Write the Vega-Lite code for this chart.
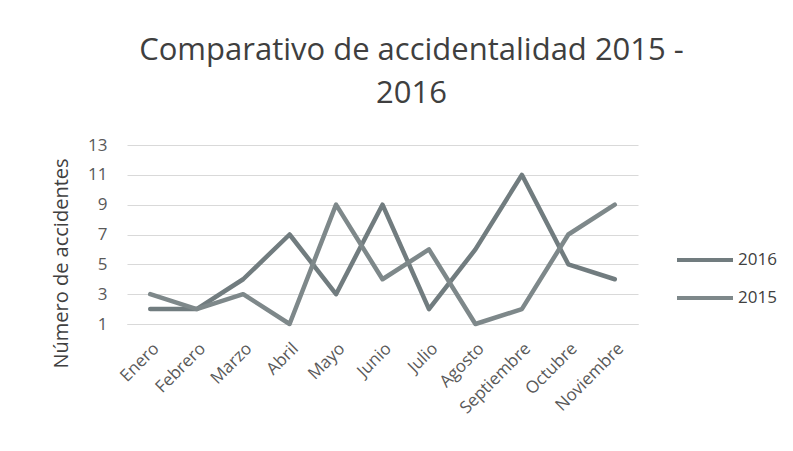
{
  "$schema": "https://vega.github.io/schema/vega-lite/v6.json",
  "autosize": {"type": "none"},
  "width": 511,
  "height": 179,
  "padding": {"left": 127, "top": 145, "right": 155, "bottom": 127},
  "background": "white",
  "config": {
    "font": "Open Sans",
    "view": {"stroke": null}
  },
  "title": {
    "text": ["Comparativo de accidentalidad 2015 -", "2016"],
    "fontSize": 31,
    "fontWeight": "normal",
    "color": "#3f3f3f",
    "lineHeight": 43,
    "anchor": "middle",
    "dx": 29,
    "offset": 26,
    "font": "Open Sans"
  },
  "data": {
    "values": [
      {"mes": "Enero", "serie": "2016", "valor": 2},
      {"mes": "Febrero", "serie": "2016", "valor": 2},
      {"mes": "Marzo", "serie": "2016", "valor": 4},
      {"mes": "Abril", "serie": "2016", "valor": 7},
      {"mes": "Mayo", "serie": "2016", "valor": 3},
      {"mes": "Junio", "serie": "2016", "valor": 9},
      {"mes": "Julio", "serie": "2016", "valor": 2},
      {"mes": "Agosto", "serie": "2016", "valor": 6},
      {"mes": "Septiembre", "serie": "2016", "valor": 11},
      {"mes": "Octubre", "serie": "2016", "valor": 5},
      {"mes": "Noviembre", "serie": "2016", "valor": 4},
      {"mes": "Enero", "serie": "2015", "valor": 3},
      {"mes": "Febrero", "serie": "2015", "valor": 2},
      {"mes": "Marzo", "serie": "2015", "valor": 3},
      {"mes": "Abril", "serie": "2015", "valor": 1},
      {"mes": "Mayo", "serie": "2015", "valor": 9},
      {"mes": "Junio", "serie": "2015", "valor": 4},
      {"mes": "Julio", "serie": "2015", "valor": 6},
      {"mes": "Agosto", "serie": "2015", "valor": 1},
      {"mes": "Septiembre", "serie": "2015", "valor": 2},
      {"mes": "Octubre", "serie": "2015", "valor": 7},
      {"mes": "Noviembre", "serie": "2015", "valor": 9}
    ]
  },
  "mark": {"type": "line", "strokeWidth": 4.5, "strokeJoin": "round", "strokeCap": "round"},
  "encoding": {
    "x": {
      "field": "mes",
      "type": "nominal",
      "sort": ["Enero", "Febrero", "Marzo", "Abril", "Mayo", "Junio", "Julio", "Agosto", "Septiembre", "Octubre", "Noviembre"],
      "scale": {"paddingOuter": 0.5},
      "axis": {
        "title": null,
        "labelAngle": -45,
        "labelFontSize": 17,
        "labelColor": "#595959",
        "labelPadding": 16,
        "ticks": false,
        "domainColor": "#d9d9d9",
        "domainWidth": 1,
        "grid": false
      }
    },
    "y": {
      "field": "valor",
      "type": "quantitative",
      "scale": {"domain": [1, 13], "nice": false, "zero": false},
      "axis": {
        "values": [1, 3, 5, 7, 9, 11, 13],
        "title": "Número de accidentes",
        "titleFontSize": 20,
        "titleFontWeight": "normal",
        "titleColor": "#404040",
        "titleX": -56,
        "titleY": 118,
        "labelFontSize": 17,
        "labelColor": "#595959",
        "labelPadding": 20,
        "ticks": false,
        "domain": false,
        "gridColor": "#d9d9d9",
        "gridWidth": 1
      }
    },
    "color": {
      "field": "serie",
      "type": "nominal",
      "scale": {"domain": ["2016", "2015"], "range": ["#717c7f", "#7e888a"]},
      "legend": {
        "title": null,
        "orient": "none",
        "legendX": 548,
        "legendY": 85,
        "symbolType": "stroke",
        "symbolSize": 3136,
        "symbolStrokeWidth": 4,
        "labelFontSize": 17,
        "labelColor": "#404040",
        "labelOffset": 3,
        "rowPadding": -11,
        "padding": 0
      }
    }
  }
}
